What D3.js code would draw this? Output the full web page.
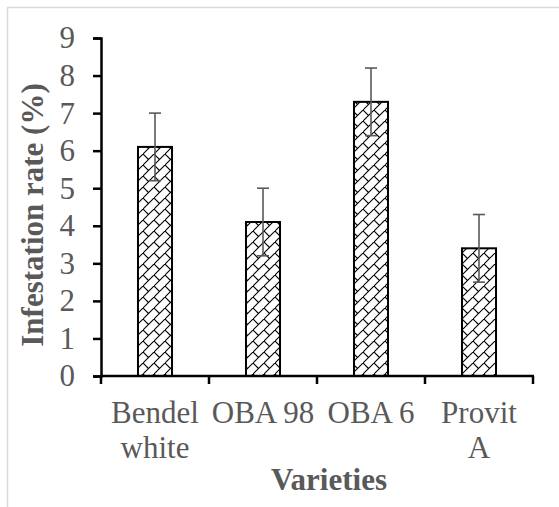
<!DOCTYPE html>
<html>
<head>
<meta charset="utf-8">
<script src="https://cdn.jsdelivr.net/npm/d3@7"></script>
<style>
  body { margin: 0; background: #fff; }
  svg { display: block; }
  text { font-family: "Liberation Serif", "Times New Roman", serif; }
</style>
</head>
<body>
<svg width="559" height="507"></svg>
<script>
var categories = ["Bendel white", "OBA 98", "OBA 6", "Provit A"];
var tickLabels = [["Bendel", "white"], ["OBA 98"], ["OBA 6"], ["Provit", "A"]];
var values = [6.1, 4.1, 7.3, 3.4];
var errors = [0.9, 0.9, 0.9, 0.9];
var yTicks = [0, 1, 2, 3, 4, 5, 6, 7, 8, 9];

var svg = d3.select("svg"),
    width = +svg.attr("width"),
    height = +svg.attr("height");

var grey = "#595959";

// chart area border (runs off the right and bottom edges)
svg.append("rect")
    .attr("x", 7.5)
    .attr("y", 7.5)
    .attr("width", width + 20)
    .attr("height", height + 20)
    .attr("fill", "none")
    .attr("stroke", "#d9d9d9")
    .attr("stroke-width", 1.5);

// diagonal brick fill
var defs = svg.append("defs");
var pat = defs.append("pattern")
    .attr("id", "brick")
    .attr("patternUnits", "userSpaceOnUse")
    .attr("width", 11)
    .attr("height", 11);
pat.append("rect").attr("width", 11).attr("height", 11).attr("fill", "#fff");
pat.append("path")
    .attr("d", "M-1,12 L12,-1 M0,0 L5.5,5.5")
    .attr("stroke", "#000")
    .attr("stroke-width", 1.1)
    .attr("fill", "none");

var x = d3.scaleBand()
    .domain(categories)
    .range([101, 533])
    .paddingInner(0.685)
    .paddingOuter(0.3425);

var y = d3.scaleLinear()
    .domain([0, 9])
    .range([376, 38]);

// bars
svg.append("g")
    .selectAll("rect")
    .data(values)
    .enter().append("rect")
    .attr("x", function(d, i) { return x(categories[i]); })
    .attr("y", function(d) { return y(d); })
    .attr("width", x.bandwidth())
    .attr("height", function(d) { return y(0) - y(d); })
    .attr("fill", "url(#brick)")
    .attr("stroke", "#000")
    .attr("stroke-width", 2);

// error bars
var eb = svg.append("g")
    .attr("stroke", grey)
    .attr("stroke-width", 1.6)
    .selectAll("g")
    .data(values)
    .enter().append("g")
    .attr("transform", function(d, i) {
        return "translate(" + (x(categories[i]) + x.bandwidth() / 2) + ",0)";
    });
eb.append("line")
    .attr("y1", function(d, i) { return y(d - errors[i]); })
    .attr("y2", function(d, i) { return y(d + errors[i]); });
eb.append("line")
    .attr("x1", -6).attr("x2", 6)
    .attr("y1", function(d, i) { return y(d + errors[i]); })
    .attr("y2", function(d, i) { return y(d + errors[i]); });
eb.append("line")
    .attr("x1", -6).attr("x2", 6)
    .attr("y1", function(d, i) { return y(d - errors[i]); })
    .attr("y2", function(d, i) { return y(d - errors[i]); });

// y axis
var yAxis = svg.append("g")
    .attr("transform", "translate(101,0)")
    .call(d3.axisLeft(y).tickValues(yTicks).tickSize(8).tickPadding(18).tickFormat(d3.format("d")));
yAxis.select(".domain").attr("stroke-width", 2.5);
yAxis.selectAll(".tick line").attr("stroke-width", 2.5);
yAxis.selectAll(".tick text")
    .attr("fill", grey)
    .style("font-size", "31px")
    .style("font-family", "Liberation Serif, Times New Roman, serif");

// x axis line and boundary ticks
var x0 = x.range()[0], x1 = x.range()[1];
var bounds = d3.range(categories.length + 1).map(function(i) { return x0 + i * x.step(); });
svg.append("line")
    .attr("x1", x0 - 1).attr("x2", x1 + 1)
    .attr("y1", y(0)).attr("y2", y(0))
    .attr("stroke", "#000").attr("stroke-width", 2.5);
svg.append("g")
    .selectAll("line")
    .data(bounds)
    .enter().append("line")
    .attr("x1", function(d) { return d; })
    .attr("x2", function(d) { return d; })
    .attr("y1", y(0))
    .attr("y2", y(0) + 8)
    .attr("stroke", "#000")
    .attr("stroke-width", 2.5);

// category labels
var lab = svg.append("g")
    .selectAll("text")
    .data(tickLabels)
    .enter().append("text")
    .attr("x", function(d, i) { return x(categories[i]) + x.bandwidth() / 2; })
    .attr("y", 423)
    .attr("text-anchor", "middle")
    .attr("fill", grey)
    .style("font-size", "31px");
lab.selectAll("tspan")
    .data(function(d) { return d; })
    .enter().append("tspan")
    .attr("x", function() { return d3.select(this.parentNode).attr("x"); })
    .attr("dy", function(d, i) { return i ? 35 : 0; })
    .text(function(d) { return d; });

// axis titles
svg.append("text")
    .attr("transform", "translate(43,215) rotate(-90)")
    .attr("text-anchor", "middle")
    .attr("fill", grey)
    .attr("font-weight", "bold")
    .style("font-size", "31px")
    .text("Infestation rate (%)");

svg.append("text")
    .attr("x", 329)
    .attr("y", 490)
    .attr("text-anchor", "middle")
    .attr("fill", grey)
    .attr("font-weight", "bold")
    .style("font-size", "31px")
    .text("Varieties");
</script>
</body>
</html>
